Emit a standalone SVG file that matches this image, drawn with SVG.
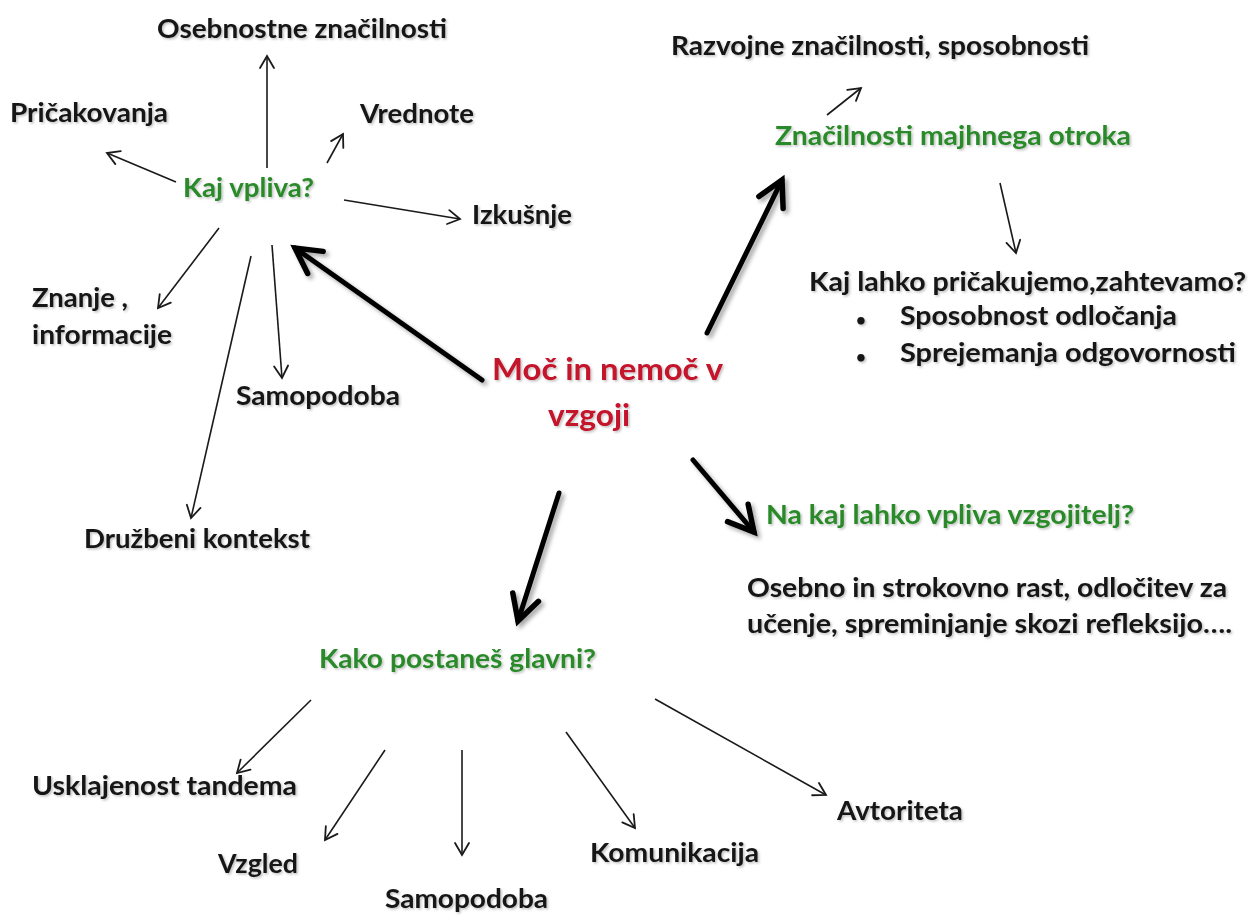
<svg xmlns="http://www.w3.org/2000/svg" width="1251" height="916" viewBox="0 0 1251 916">
<defs>
<style>
text{font-family:Lato,"Open Sans","Liberation Sans",sans-serif;font-weight:700;font-size:27.5px;fill:#141414}
.g{fill:#2a8a2a}
.r{fill:#c4122c;font-size:31px}
.b{font-size:17px}
.thin{stroke:#1a1a1a;stroke-width:1.6;fill:none;marker-end:url(#ah)}
.thick{stroke:#000;stroke-width:5;fill:none;stroke-linecap:round;marker-end:url(#AH)}
</style>
<marker id="ah" markerUnits="userSpaceOnUse" orient="auto" markerWidth="30" markerHeight="30" refX="0" refY="0" viewBox="-15 -15 30 30" overflow="visible">
<path d="M-12,-7 L0,0 L-12,7" fill="none" stroke="#1a1a1a" stroke-width="1.8" stroke-linecap="round" stroke-linejoin="miter"/>
</marker>
<marker id="AH" markerUnits="userSpaceOnUse" orient="auto" markerWidth="70" markerHeight="70" refX="0" refY="0" viewBox="-35 -35 70 70" overflow="visible">
<path d="M-25,-13.5 L0,0 L-25,13.5" fill="none" stroke="#000" stroke-width="5.5" stroke-linecap="round" stroke-linejoin="miter"/>
</marker>
<filter id="sh" x="-20%" y="-20%" width="140%" height="140%">
<feDropShadow dx="3" dy="3" stdDeviation="2" flood-color="#000" flood-opacity="0.35"/>
</filter>
<filter id="tsh" x="-5%" y="-30%" width="110%" height="160%">
<feDropShadow dx="1.5" dy="1.5" stdDeviation="1.2" flood-color="#000" flood-opacity="0.25"/>
</filter>
</defs>
<rect width="1251" height="916" fill="#fff"/>

<g id="connectors">
<g id="thin-arrows">
<line class="thin" x1="267" y1="168" x2="267" y2="56"/>
<line class="thin" x1="176" y1="182" x2="107" y2="153"/>
<line class="thin" x1="327" y1="163" x2="343" y2="134"/>
<line class="thin" x1="344" y1="200" x2="460" y2="219"/>
<line class="thin" x1="219" y1="228" x2="158" y2="308"/>
<line class="thin" x1="251" y1="256" x2="191" y2="518"/>
<line class="thin" x1="272" y1="245" x2="282" y2="378"/>
<line class="thin" x1="827" y1="115" x2="861" y2="88"/>
<line class="thin" x1="1000" y1="183" x2="1016" y2="253"/>
<line class="thin" x1="311" y1="700" x2="237" y2="773"/>
<line class="thin" x1="385" y1="750" x2="325" y2="840"/>
<line class="thin" x1="462" y1="750" x2="462" y2="855"/>
<line class="thin" x1="566" y1="732" x2="635" y2="828"/>
<line class="thin" x1="655" y1="699" x2="826" y2="795"/>
</g>
<g id="thick-arrows" filter="url(#sh)">
<line class="thick" x1="482" y1="380" x2="295" y2="248"/>
<line class="thick" x1="707" y1="333" x2="782" y2="180"/>
<line class="thick" x1="693" y1="460" x2="754" y2="532"/>
<line class="thick" x1="559" y1="493" x2="518" y2="621"/>
</g>
</g>

<g id="center" filter="url(#tsh)"><text class="r" x="492" y="380" textLength="231" lengthAdjust="spacingAndGlyphs">Moč in nemoč v</text><text class="r" x="548" y="426" textLength="82" lengthAdjust="spacingAndGlyphs">vzgoji</text></g>

<g id="kaj-vpliva" filter="url(#tsh)"><text class="g" x="183" y="197" textLength="131" lengthAdjust="spacingAndGlyphs">Kaj vpliva?</text></g>
<g id="osebnostne" filter="url(#tsh)"><text x="157" y="38" textLength="290" lengthAdjust="spacingAndGlyphs">Osebnostne značilnosti</text></g>
<g id="pricakovanja" filter="url(#tsh)"><text x="10" y="122" textLength="158" lengthAdjust="spacingAndGlyphs">Pričakovanja</text></g>
<g id="vrednote" filter="url(#tsh)"><text x="360" y="123" textLength="114" lengthAdjust="spacingAndGlyphs">Vrednote</text></g>
<g id="izkusnje" filter="url(#tsh)"><text x="472" y="224" textLength="100" lengthAdjust="spacingAndGlyphs">Izkušnje</text></g>
<g id="znanje" filter="url(#tsh)"><text x="32" y="307" textLength="96" lengthAdjust="spacingAndGlyphs">Znanje ,</text><text x="32" y="344" textLength="140" lengthAdjust="spacingAndGlyphs">informacije</text></g>
<g id="samopodoba1" filter="url(#tsh)"><text x="236" y="405" textLength="164" lengthAdjust="spacingAndGlyphs">Samopodoba</text></g>
<g id="druzbeni" filter="url(#tsh)"><text x="84" y="548" textLength="226" lengthAdjust="spacingAndGlyphs">Družbeni kontekst</text></g>

<g id="znacilnosti" filter="url(#tsh)"><text class="g" x="775" y="145" textLength="356" lengthAdjust="spacingAndGlyphs">Značilnosti majhnega otroka</text></g>
<g id="razvojne" filter="url(#tsh)"><text x="671" y="55" textLength="418" lengthAdjust="spacingAndGlyphs">Razvojne značilnosti, sposobnosti</text></g>
<g id="kaj-lahko" filter="url(#tsh)">
<text x="809" y="291" textLength="437" lengthAdjust="spacingAndGlyphs">Kaj lahko pričakujemo,zahtevamo?</text>
<text class="b" x="856" y="326">•</text>
<text x="900" y="325" textLength="277" lengthAdjust="spacingAndGlyphs">Sposobnost odločanja</text>
<text class="b" x="856" y="363">•</text>
<text x="900" y="362" textLength="336" lengthAdjust="spacingAndGlyphs">Sprejemanja odgovornosti</text>
</g>

<g id="na-kaj" filter="url(#tsh)"><text class="g" x="766" y="524" textLength="368" lengthAdjust="spacingAndGlyphs">Na kaj lahko vpliva vzgojitelj?</text></g>
<g id="osebno" filter="url(#tsh)"><text x="747" y="597" textLength="480" lengthAdjust="spacingAndGlyphs">Osebno in strokovno rast, odločitev za</text><text x="747" y="633" textLength="485" lengthAdjust="spacingAndGlyphs">učenje, spreminjanje skozi refleksijo….</text></g>

<g id="kako" filter="url(#tsh)"><text class="g" x="319" y="668" textLength="277" lengthAdjust="spacingAndGlyphs">Kako postaneš glavni?</text></g>
<g id="usklajenost" filter="url(#tsh)"><text x="32" y="795" textLength="265" lengthAdjust="spacingAndGlyphs">Usklajenost tandema</text></g>
<g id="vzgled" filter="url(#tsh)"><text x="218" y="873" textLength="80" lengthAdjust="spacingAndGlyphs">Vzgled</text></g>
<g id="samopodoba2" filter="url(#tsh)"><text x="385" y="908" textLength="163" lengthAdjust="spacingAndGlyphs">Samopodoba</text></g>
<g id="komunikacija" filter="url(#tsh)"><text x="590" y="862" textLength="169" lengthAdjust="spacingAndGlyphs">Komunikacija</text></g>
<g id="avtoriteta" filter="url(#tsh)"><text x="837" y="820" textLength="126" lengthAdjust="spacingAndGlyphs">Avtoriteta</text></g>
</svg>
